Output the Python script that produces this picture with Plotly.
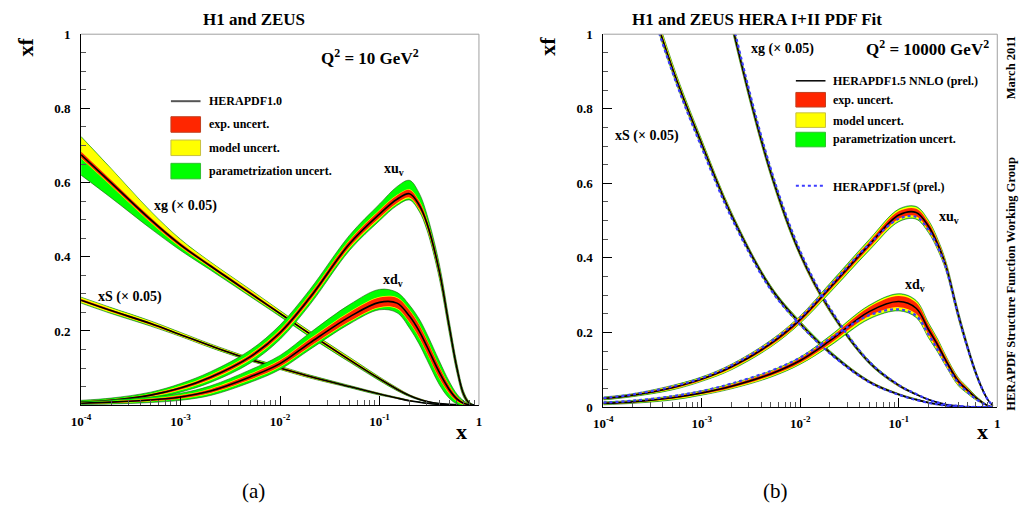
import plotly.graph_objects as go

W, H = 1021, 518

# ---------------- data ----------------
X = [1e-4, 2e-4, 5e-4, 1e-3, 2e-3, 5e-3, 1e-2, 2e-2, 5e-2, 0.1,
     0.15, 0.2, 0.25, 0.3, 0.4, 0.5, 0.6, 0.7, 0.8, 0.9]

# (a) Q^2 = 10 GeV^2, HERAPDF1.0
L_XG = [0.675, 0.600, 0.500, 0.432, 0.375, 0.302, 0.247, 0.192, 0.122, 0.071,
        0.043, 0.026, 0.016, 0.010, 0.004, 0.002, 0.001, 0.0, 0.0, 0.0]
L_XG_EXP = [0.008, 0.007, 0.006, 0.005, 0.004, 0.004, 0.003, 0.003, 0.003, 0.002,
            0.002, 0.001, 0.001, 0.001, 0.0, 0.0, 0.0, 0.0, 0.0, 0.0]
L_XG_MOD_UP = [0.040, 0.030, 0.016, 0.009, 0.006, 0.005, 0.004, 0.003, 0.003, 0.002,
               0.001, 0.001, 0.001, 0.0, 0.0, 0.0, 0.0, 0.0, 0.0, 0.0]
L_XG_MOD_DN = [0.002, 0.002, 0.002, 0.002, 0.002, 0.002, 0.002, 0.002, 0.001, 0.001,
               0.001, 0.001, 0.0, 0.0, 0.0, 0.0, 0.0, 0.0, 0.0, 0.0]
L_XG_PAR_UP = [0.001, 0.001, 0.001, 0.001, 0.001, 0.001, 0.001, 0.001, 0.001, 0.001,
               0.001, 0.0, 0.0, 0.0, 0.0, 0.0, 0.0, 0.0, 0.0, 0.0]
L_XG_PAR_DN = [0.045, 0.032, 0.016, 0.008, 0.005, 0.003, 0.003, 0.003, 0.002, 0.002,
               0.001, 0.001, 0.001, 0.0, 0.0, 0.0, 0.0, 0.0, 0.0, 0.0]

L_XS = [0.283, 0.255, 0.220, 0.190, 0.160, 0.123, 0.100, 0.077, 0.050, 0.030,
        0.019, 0.012, 0.008, 0.005, 0.002, 0.001, 0.0, 0.0, 0.0, 0.0]
L_XS_EXP = [0.003, 0.003, 0.003, 0.002, 0.002, 0.002, 0.002, 0.002, 0.001, 0.001,
            0.001, 0.001, 0.0, 0.0, 0.0, 0.0, 0.0, 0.0, 0.0, 0.0]
L_XS_MOD_UP = [0.004, 0.004, 0.003, 0.003, 0.002, 0.002, 0.002, 0.001, 0.001, 0.001,
               0.001, 0.0, 0.0, 0.0, 0.0, 0.0, 0.0, 0.0, 0.0, 0.0]
L_XS_MOD_DN = [0.003, 0.003, 0.002, 0.002, 0.002, 0.001, 0.001, 0.001, 0.001, 0.001,
               0.0, 0.0, 0.0, 0.0, 0.0, 0.0, 0.0, 0.0, 0.0, 0.0]
L_XS_PAR_UP = [0.001, 0.001, 0.001, 0.001, 0.001, 0.001, 0.001, 0.001, 0.001, 0.0,
               0.0, 0.0, 0.0, 0.0, 0.0, 0.0, 0.0, 0.0, 0.0, 0.0]
L_XS_PAR_DN = [0.002, 0.002, 0.002, 0.001, 0.001, 0.001, 0.001, 0.001, 0.001, 0.001,
               0.0, 0.0, 0.0, 0.0, 0.0, 0.0, 0.0, 0.0, 0.0, 0.0]

L_XU = [0.008, 0.013, 0.027, 0.046, 0.075, 0.130, 0.195, 0.290, 0.435, 0.515,
        0.555, 0.570, 0.540, 0.490, 0.360, 0.215, 0.100, 0.030, 0.005, 0.0]
L_XU_EXP = [0.002, 0.002, 0.003, 0.004, 0.005, 0.006, 0.007, 0.008, 0.009, 0.010,
            0.010, 0.010, 0.010, 0.010, 0.010, 0.008, 0.006, 0.004, 0.002, 0.0]
L_XU_MOD_UP = [0.001, 0.001, 0.001, 0.002, 0.002, 0.002, 0.002, 0.002, 0.002, 0.002,
               0.002, 0.002, 0.002, 0.002, 0.002, 0.002, 0.002, 0.001, 0.001, 0.0]
L_XU_MOD_DN = [0.001, 0.001, 0.002, 0.002, 0.003, 0.003, 0.003, 0.003, 0.003, 0.003,
               0.003, 0.003, 0.003, 0.003, 0.003, 0.003, 0.002, 0.001, 0.001, 0.0]
L_XU_PAR_UP = [0.002, 0.003, 0.004, 0.006, 0.008, 0.010, 0.012, 0.012, 0.012, 0.015,
               0.022, 0.024, 0.020, 0.012, 0.008, 0.006, 0.005, 0.003, 0.001, 0.0]
L_XU_PAR_DN = [0.002, 0.003, 0.004, 0.005, 0.006, 0.008, 0.008, 0.008, 0.006, 0.005,
               0.004, 0.004, 0.004, 0.005, 0.006, 0.006, 0.005, 0.003, 0.001, 0.0]

L_XD = [0.005, 0.008, 0.014, 0.022, 0.038, 0.076, 0.112, 0.168, 0.238, 0.277,
        0.275, 0.240, 0.200, 0.158, 0.088, 0.043, 0.017, 0.005, 0.001, 0.0]
L_XD_EXP = [0.001, 0.002, 0.003, 0.004, 0.005, 0.007, 0.008, 0.010, 0.012, 0.013,
            0.014, 0.016, 0.017, 0.017, 0.015, 0.010, 0.006, 0.003, 0.001, 0.0]
L_XD_MOD_UP = [0.001, 0.001, 0.001, 0.001, 0.002, 0.002, 0.002, 0.002, 0.002, 0.002,
               0.002, 0.002, 0.002, 0.002, 0.002, 0.002, 0.001, 0.001, 0.0, 0.0]
L_XD_MOD_DN = [0.001, 0.001, 0.001, 0.001, 0.002, 0.002, 0.002, 0.002, 0.002, 0.002,
               0.002, 0.002, 0.002, 0.002, 0.002, 0.002, 0.001, 0.001, 0.0, 0.0]
L_XD_PAR_UP = [0.002, 0.003, 0.004, 0.005, 0.007, 0.010, 0.012, 0.015, 0.019, 0.020,
               0.013, 0.012, 0.014, 0.015, 0.014, 0.010, 0.006, 0.003, 0.001, 0.0]
L_XD_PAR_DN = [0.001, 0.002, 0.003, 0.004, 0.005, 0.006, 0.006, 0.006, 0.005, 0.005,
               0.010, 0.014, 0.016, 0.017, 0.016, 0.012, 0.007, 0.003, 0.001, 0.0]

# (b) Q^2 = 10000 GeV^2, HERAPDF1.5 NNLO and HERAPDF1.5f
R_XS = [1.600, 1.250, 0.910, 0.705, 0.515, 0.320, 0.224, 0.146, 0.068, 0.034,
        0.020, 0.012, 0.007, 0.004, 0.001, 0.0, 0.0, 0.0, 0.0, 0.0]
R_XS_F = [1.580, 1.235, 0.900, 0.695, 0.508, 0.315, 0.221, 0.144, 0.067, 0.033,
          0.019, 0.011, 0.007, 0.004, 0.001, 0.0, 0.0, 0.0, 0.0, 0.0]
R_XS_EXP = [0.010, 0.008, 0.006, 0.005, 0.004, 0.003, 0.003, 0.002, 0.002, 0.001,
            0.001, 0.001, 0.0, 0.0, 0.0, 0.0, 0.0, 0.0, 0.0, 0.0]
R_XS_MOD_UP = [0.012, 0.009, 0.006, 0.004, 0.003, 0.002, 0.002, 0.002, 0.001, 0.001,
               0.001, 0.0, 0.0, 0.0, 0.0, 0.0, 0.0, 0.0, 0.0, 0.0]
R_XS_MOD_DN = [0.006, 0.005, 0.004, 0.003, 0.002, 0.002, 0.002, 0.001, 0.001, 0.001,
               0.0, 0.0, 0.0, 0.0, 0.0, 0.0, 0.0, 0.0, 0.0, 0.0]
R_XS_PAR = [0.004, 0.003, 0.002, 0.002, 0.001, 0.001, 0.001, 0.001, 0.0, 0.0,
            0.0, 0.0, 0.0, 0.0, 0.0, 0.0, 0.0, 0.0, 0.0, 0.0]

R_XG = [3.500, 2.700, 1.850, 1.400, 1.030, 0.630, 0.410, 0.260, 0.120, 0.058,
        0.034, 0.020, 0.012, 0.007, 0.003, 0.001, 0.0, 0.0, 0.0, 0.0]
R_XG_F = [3.550, 2.740, 1.880, 1.420, 1.045, 0.640, 0.418, 0.265, 0.122, 0.059,
          0.035, 0.020, 0.012, 0.007, 0.003, 0.001, 0.0, 0.0, 0.0, 0.0]
R_XG_EXP = [0.020, 0.015, 0.010, 0.008, 0.006, 0.005, 0.004, 0.003, 0.002, 0.002,
            0.001, 0.001, 0.0, 0.0, 0.0, 0.0, 0.0, 0.0, 0.0, 0.0]
R_XG_MOD_UP = [0.020, 0.015, 0.010, 0.007, 0.005, 0.004, 0.003, 0.002, 0.002, 0.001,
               0.001, 0.0, 0.0, 0.0, 0.0, 0.0, 0.0, 0.0, 0.0, 0.0]
R_XG_MOD_DN = [0.015, 0.012, 0.008, 0.006, 0.004, 0.003, 0.002, 0.002, 0.001, 0.001,
               0.0, 0.0, 0.0, 0.0, 0.0, 0.0, 0.0, 0.0, 0.0, 0.0]
R_XG_PAR = [0.006, 0.005, 0.004, 0.003, 0.002, 0.002, 0.001, 0.001, 0.001, 0.0,
            0.0, 0.0, 0.0, 0.0, 0.0, 0.0, 0.0, 0.0, 0.0, 0.0]

R_XU = [0.023, 0.032, 0.052, 0.075, 0.108, 0.170, 0.235, 0.320, 0.435, 0.515,
        0.522, 0.485, 0.435, 0.380, 0.250, 0.160, 0.095, 0.050, 0.020, 0.004]
R_XU_F = [0.024, 0.034, 0.055, 0.078, 0.112, 0.175, 0.240, 0.325, 0.437, 0.505,
          0.510, 0.475, 0.428, 0.375, 0.248, 0.158, 0.094, 0.050, 0.020, 0.004]
R_XU_EXP = [0.002, 0.002, 0.003, 0.003, 0.004, 0.005, 0.006, 0.007, 0.008, 0.010,
            0.010, 0.010, 0.009, 0.008, 0.007, 0.005, 0.004, 0.003, 0.001, 0.0]
R_XU_MOD_UP = [0.001, 0.001, 0.002, 0.002, 0.002, 0.003, 0.003, 0.003, 0.004, 0.004,
               0.004, 0.004, 0.003, 0.003, 0.002, 0.002, 0.001, 0.001, 0.0, 0.0]
R_XU_MOD_DN = [0.001, 0.001, 0.002, 0.002, 0.003, 0.003, 0.003, 0.004, 0.005, 0.006,
               0.006, 0.005, 0.004, 0.004, 0.003, 0.002, 0.002, 0.001, 0.0, 0.0]
R_XU_PAR = [0.001, 0.001, 0.001, 0.001, 0.001, 0.001, 0.001, 0.002, 0.002, 0.002,
            0.002, 0.002, 0.002, 0.001, 0.001, 0.001, 0.001, 0.0, 0.0, 0.0]

R_XD = [0.010, 0.014, 0.025, 0.038, 0.056, 0.089, 0.125, 0.178, 0.256, 0.283,
        0.265, 0.208, 0.165, 0.125, 0.070, 0.045, 0.026, 0.013, 0.004, 0.0]
R_XD_F = [0.012, 0.017, 0.029, 0.043, 0.063, 0.097, 0.133, 0.184, 0.246, 0.262,
          0.245, 0.195, 0.152, 0.115, 0.065, 0.040, 0.023, 0.011, 0.003, 0.0]
R_XD_EXP = [0.002, 0.002, 0.003, 0.003, 0.004, 0.005, 0.006, 0.008, 0.012, 0.015,
            0.015, 0.013, 0.011, 0.009, 0.007, 0.005, 0.003, 0.002, 0.001, 0.0]
R_XD_MOD_UP = [0.001, 0.001, 0.001, 0.002, 0.002, 0.002, 0.002, 0.003, 0.003, 0.004,
               0.004, 0.003, 0.003, 0.003, 0.002, 0.002, 0.001, 0.001, 0.0, 0.0]
R_XD_MOD_DN = [0.001, 0.001, 0.002, 0.002, 0.002, 0.003, 0.003, 0.004, 0.006, 0.008,
               0.008, 0.007, 0.006, 0.005, 0.004, 0.003, 0.002, 0.001, 0.0, 0.0]
R_XD_PAR = [0.001, 0.001, 0.001, 0.001, 0.001, 0.001, 0.001, 0.002, 0.002, 0.002,
            0.002, 0.002, 0.002, 0.001, 0.001, 0.001, 0.001, 0.0, 0.0, 0.0]

X_TICKS = [1e-4, 1e-3, 1e-2, 1e-1, 1]
X_TICK_TEXT = ["10<sup>-4</sup>", "10<sup>-3</sup>", "10<sup>-2</sup>", "10<sup>-1</sup>", "1"]
Y_TICKS_A = [0.2, 0.4, 0.6, 0.8, 1.0]
Y_TICK_TEXT_A = ["0.2", "0.4", "0.6", "0.8", "1"]
Y_TICKS_B = [0.0, 0.2, 0.4, 0.6, 0.8, 1.0]
Y_TICK_TEXT_B = ["0", "0.2", "0.4", "0.6", "0.8", "1"]

# ---------------- style ----------------
FONT = "Liberation Serif, Times New Roman, serif"
RED = "#ff2600"
YEL = "#ffff00"
GRN = "#00ff00"
BLUE = "#3c3cff"
SPL = dict(shape="spline", smoothing=1.0)

fig = go.Figure()


def add_sum(a, b, s):
    return [p + s * q for p, q in zip(a, b)]


def add_pdf(xa, ya, c, exp, mu, md, pu, pd):
    r_up, r_dn = add_sum(c, exp, 1), add_sum(c, exp, -1)
    y_up, y_dn = add_sum(r_up, mu, 1), add_sum(r_dn, md, -1)
    g_up, g_dn = add_sum(y_up, pu, 1), add_sum(y_dn, pd, -1)
    for up, dn, col, lc, lw in [(g_up, g_dn, GRN, "#1e5a10", 0.6),
                                (y_up, y_dn, YEL, YEL, 0),
                                (r_up, r_dn, RED, RED, 0)]:
        fig.add_trace(go.Scatter(x=X + X[::-1], y=up + dn[::-1], mode="lines",
                                 fill="toself", fillcolor=col,
                                 line=dict(color=lc, width=lw, **SPL),
                                 xaxis=xa, yaxis=ya, hoverinfo="skip"))
    fig.add_trace(go.Scatter(x=X, y=c, mode="lines",
                             line=dict(color="black", width=1.6, **SPL),
                             xaxis=xa, yaxis=ya, hoverinfo="skip"))


def add_dotted(xa, ya, c):
    fig.add_trace(go.Scatter(x=X, y=c, mode="lines",
                             line=dict(color=BLUE, width=2.2, dash="dot", **SPL),
                             xaxis=xa, yaxis=ya, hoverinfo="skip"))


# panel (a)
add_pdf("x", "y", L_XG, L_XG_EXP, L_XG_MOD_UP, L_XG_MOD_DN, L_XG_PAR_UP, L_XG_PAR_DN)
add_pdf("x", "y", L_XS, L_XS_EXP, L_XS_MOD_UP, L_XS_MOD_DN, L_XS_PAR_UP, L_XS_PAR_DN)
add_pdf("x", "y", L_XU, L_XU_EXP, L_XU_MOD_UP, L_XU_MOD_DN, L_XU_PAR_UP, L_XU_PAR_DN)
add_pdf("x", "y", L_XD, L_XD_EXP, L_XD_MOD_UP, L_XD_MOD_DN, L_XD_PAR_UP, L_XD_PAR_DN)

# panel (b)
add_pdf("x2", "y2", R_XS, R_XS_EXP, R_XS_MOD_UP, R_XS_MOD_DN, R_XS_PAR, R_XS_PAR)
add_pdf("x2", "y2", R_XG, R_XG_EXP, R_XG_MOD_UP, R_XG_MOD_DN, R_XG_PAR, R_XG_PAR)
add_pdf("x2", "y2", R_XU, R_XU_EXP, R_XU_MOD_UP, R_XU_MOD_DN, R_XU_PAR, R_XU_PAR)
add_pdf("x2", "y2", R_XD, R_XD_EXP, R_XD_MOD_UP, R_XD_MOD_DN, R_XD_PAR, R_XD_PAR)
for cur in (R_XS_F, R_XG_F, R_XU_F, R_XD_F):
    add_dotted("x2", "y2", cur)


def px(x, y):
    return x / W, 1 - y / H


MINOR_X = [k * 10 ** e for e in range(-4, 0) for k in range(2, 10)]
TICKFONT = dict(family=FONT, size=13, color="black", weight="bold")


def xaxis_cfg(dom):
    return dict(type="log", range=[-4, 0], domain=dom, showgrid=False, zeroline=False,
                showline=True, linecolor="black", linewidth=1,
                tickmode="array", tickvals=X_TICKS, ticktext=X_TICK_TEXT,
                ticks="inside", ticklen=9, tickcolor="black", tickwidth=1,
                tickfont=TICKFONT, ticklabelstandoff=4,
                minor=dict(tickvals=MINOR_X, ticks="inside", ticklen=5,
                           tickcolor="#555", tickwidth=1, showgrid=False))


def yaxis_cfg(dom, tv, tt, anchor):
    return dict(range=[0, 1], domain=dom, anchor=anchor, showgrid=False, zeroline=False,
                showline=True, linecolor="black", linewidth=1,
                tickmode="array", tickvals=tv, ticktext=tt,
                ticks="inside", ticklen=9, tickcolor="black", tickwidth=1,
                tickfont=TICKFONT, ticklabelstandoff=7,
                minor=dict(dtick=0.05, ticks="inside", ticklen=5,
                           tickcolor="#555", tickwidth=1, showgrid=False))


fig.update_layout(
    width=W, height=H, margin=dict(l=0, r=0, t=0, b=0),
    paper_bgcolor="white", plot_bgcolor="white", showlegend=False,
    xaxis=dict(**xaxis_cfg([72 / W, 475 / W]), anchor="y"),
    yaxis=yaxis_cfg([1 - 410 / H, 1 - 28 / H], Y_TICKS_A, Y_TICK_TEXT_A, "x"),
    xaxis2=dict(**xaxis_cfg([601 / W, 1000 / W]), anchor="y2"),
    yaxis2=yaxis_cfg([1 - 412 / H, 1 - 28 / H], Y_TICKS_B, Y_TICK_TEXT_B, "x2"),
)

shapes = []
# top / right frame lines (gray)
for xr, yr in (("x domain", "y domain"), ("x2 domain", "y2 domain")):
    shapes.append(dict(type="line", xref=xr, yref=yr, x0=0, x1=1, y0=1, y1=1,
                       line=dict(color="#a0a0a0", width=1)))
    shapes.append(dict(type="line", xref=xr, yref=yr, x0=1, x1=1, y0=0, y1=1,
                       line=dict(color="#a0a0a0", width=1)))


def leg_line(x0, x1, y, color, dash="solid", w=2):
    a, b = px(x0, y)
    c, _ = px(x1, y)
    shapes.append(dict(type="line", xref="paper", yref="paper", x0=a, x1=c, y0=b, y1=b,
                       line=dict(color=color, width=w, dash=dash)))


def leg_rect(x0, y0, x1, y1, fill, edge):
    a, b = px(x0, y0)
    c, d = px(x1, y1)
    shapes.append(dict(type="rect", xref="paper", yref="paper", x0=a, x1=c, y0=d, y1=b,
                       fillcolor=fill, line=dict(color=edge, width=1)))


# legend (a)
leg_line(163, 193, 97, "#555555", w=2)
leg_rect(163, 113, 193, 129, RED, "#c04020")
leg_rect(163, 137, 193, 153, YEL, "#c8c040")
leg_rect(163, 161, 193, 177, GRN, "#30c030")
# legend (b)
leg_line(796, 826, 76, "black", w=1.5)
leg_rect(796, 88, 826, 103, RED, "#c04020")
leg_rect(796, 109, 826, 124, YEL, "#c8c040")
leg_rect(796, 129, 826, 144, GRN, "#30c030")
leg_line(796, 826, 184, BLUE, dash="dot", w=2)

fig.update_layout(shapes=shapes)

annots = []


def text(x, y, s, size=13, bold=True, xanchor="center", angle=0, family=FONT):
    a, b = px(x, y)
    annots.append(dict(x=a, y=b, xref="paper", yref="paper", text=s, showarrow=False,
                       xanchor=xanchor, yanchor="middle", textangle=angle, borderpad=0,
                       font=dict(family=family, size=size, color="black",
                                 weight="bold" if bold else "normal")))


# titles
text(247, 13, "H1 and ZEUS", size=17)
text(757, 13, "H1 and ZEUS HERA I+II PDF Fit", size=17)
# axis titles
text(16, 41, "xf", size=22, angle=-90)
text(545, 41, "xf", size=22, angle=-90)
text(457, 437, "x", size=22)
text(985, 437, "x", size=22)
# Q^2
text(365, 52, "Q<sup>2</sup> = 10 GeV<sup>2</sup>", size=17)
text(929, 42, "Q<sup>2</sup> = 10000 GeV<sup>2</sup>", size=17)
# legend texts (a)
text(201, 97, "HERAPDF1.0", size=12, xanchor="left")
text(201, 121, "exp. uncert.", size=12, xanchor="left")
text(201, 145, "model uncert.", size=12, xanchor="left")
text(201, 169, "parametrization uncert.", size=12, xanchor="left")
# legend texts (b)
text(833, 76, "HERAPDF1.5 NNLO (prel.)", size=12, xanchor="left")
text(833, 96, "exp. uncert.", size=12, xanchor="left")
text(833, 117, "model uncert.", size=12, xanchor="left")
text(833, 136, "parametrization uncert.", size=12, xanchor="left")
text(833, 185, "HERAPDF1.5f (prel.)", size=12, xanchor="left")
# curve labels (a)
text(178, 205, "xg (× 0.05)", size=14)
text(122, 299, "xS (× 0.05)", size=14)
text(389, 167, "xu<sub>v</sub>", size=14)
text(388, 282, "xd<sub>v</sub>", size=14)
# curve labels (b)
text(782, 43, "xg (× 0.05)", size=14)
text(645, 133, "xS (× 0.05)", size=14)
text(951, 217, "xu<sub>v</sub>", size=14)
text(917, 287, "xd<sub>v</sub>", size=14)
# side texts
text(1014, 285, "HERAPDF Structure Function Working Group", size=12.5, angle=-90)
text(1014, 63, "March 2011", size=12.5, angle=-90)
# subfigure labels
text(247, 498, "(a)", size=21, bold=False)
text(775, 498, "(b)", size=21, bold=False)

fig.update_layout(annotations=annots)

fig.write_html("out.html")
